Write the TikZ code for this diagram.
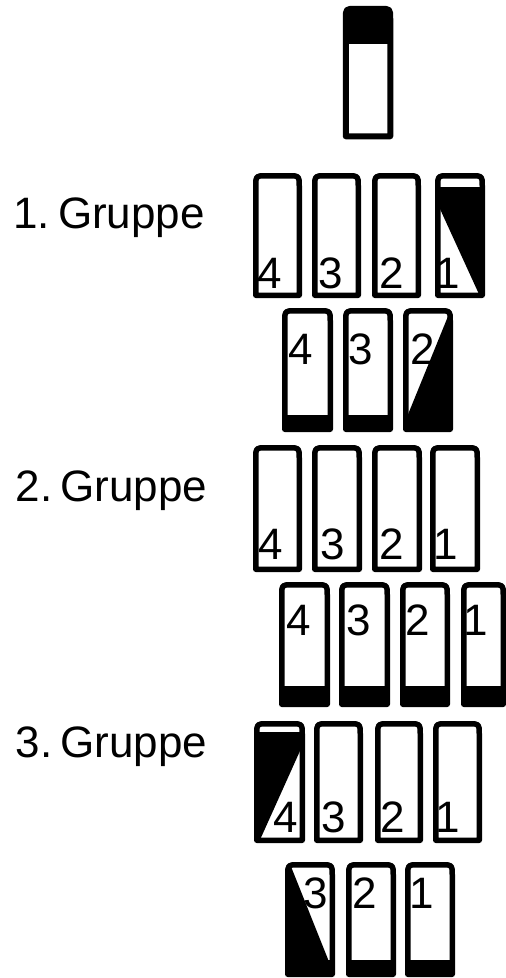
\documentclass[tikz,border=0pt]{standalone}
\usepackage{fontspec}
\setmainfont{Liberation Sans}
% Tile outline: #1,#2 = outer left/top, #3,#4 = outer right/bottom, #5 = path options.
% The path runs on the stroke centre line, 2.75 inside the outer edge.
\newcommand\tileshape[5]{%
  \path[#5] ({#1+2.75},{#4-2.75}) -- ({#1+2.75},{#2+13})
    .. controls ({#1+2.75},{#2+2.75}) .. ({#1+13},{#2+2.75})
    -- ({#3-13},{#2+2.75})
    .. controls ({#3-2.75},{#2+2.75}) .. ({#3-2.75},{#2+13})
    -- ({#3-2.75},{#4-2.75}) -- cycle;}
% Solid base band: #1 left, #2 band top, #3 right, #4 outer bottom.
\newcommand\baseband[4]{\fill[black] ({#1+2.75},#2) rectangle ({#3-2.75},{#4-2.75});}
\begin{document}
\begin{tikzpicture}[x=1pt,y=-1pt,
  outline/.style={draw=black,line width=5.5pt,line join=round},
  digit/.style={anchor=base west,inner sep=0pt,font=\fontsize{44}{44}\selectfont},
  grouplabel/.style={anchor=base west,inner sep=0pt,font=\fontsize{44}{44}\selectfont}]
\useasboundingbox[fill=white] (0,0) rectangle (506,978);
\clip (0,0) rectangle (506,978);

% ---------- single tile on top ----------
\begin{scope}
  \clip (0,0) rectangle (506,43);
  \tileshape{343}{6}{393}{139}{fill=black}
\end{scope}
\tileshape{343}{6}{393}{139}{outline,line width=6pt}

% ---------- group 1 ----------
% first row
\fill[black] (437.75,187) -- (482.25,187) -- (482.25,295.25) -- (479.5,295.25) -- (437.75,204) -- cycle;
\tileshape{253}{173}{302}{298}{outline}
\tileshape{312}{173}{361}{298}{outline}
\tileshape{372}{173}{421}{298}{outline}
\tileshape{435}{173}{485}{298}{outline}
\node[digit] (g1a4) at (257.5,288.5) {4};
\node[digit] (g1a3) at (318.2,288.5) {3};
\node[digit] (g1a2) at (378.8,288.5) {2};
\node[digit] (g1a1) at (435.4,288.5) {1};
% second row
\baseband{282}{415}{333}{432}
\baseband{343}{415}{393}{432}
\baseband{403}{415}{453}{432}
\fill[black] (450.25,314) -- (450.25,429.25) -- (405.75,429.25) -- (405.75,420) -- (449.5,312.6) -- cycle;
\tileshape{282}{308}{333}{432}{outline}
\tileshape{343}{308}{393}{432}{outline}
\tileshape{403}{308}{453}{432}{outline}
\node[digit] (g1b4) at (287.8,364) {4};
\node[digit] (g1b3) at (348.2,364) {3};
\node[digit] (g1b2) at (410.5,364) {2};

% ---------- group 2 ----------
% first row
\tileshape{253}{445}{302}{572}{outline}
\tileshape{312}{445}{362}{572}{outline}
\tileshape{372}{445}{422}{572}{outline}
\tileshape{430}{445}{480}{572}{outline}
\node[digit] (g2a4) at (257.8,559.5) {4};
\node[digit] (g2a3) at (319.9,559.5) {3};
\node[digit] (g2a2) at (378.8,559.5) {2};
\node[digit] (g2a1) at (433.7,559.5) {1};
% second row
\baseband{279}{686}{330}{707}
\baseband{339}{686}{390}{707}
\baseband{400}{686}{450}{707}
\baseband{461}{686}{506}{707}
\tileshape{279}{582}{330}{707}{outline}
\tileshape{339}{582}{390}{707}{outline}
\tileshape{400}{582}{450}{707}{outline}
\tileshape{461}{582}{506}{707}{outline}
\node[digit] (g2b4) at (286.2,635.5) {4};
\node[digit] (g2b3) at (346.5,635.5) {3};
\node[digit] (g2b2) at (405.5,635.5) {2};
\node[digit] (g2b1) at (463.7,635.5) {1};

% ---------- group 3 ----------
% first row
\fill[black] (256.75,732) -- (302.25,732) -- (302.25,745.9) -- (259.8,840.25) -- (256.75,840.25) -- cycle;
\tileshape{254}{721}{305}{843}{outline}
\tileshape{314}{721}{363}{843}{outline}
\tileshape{375}{721}{423}{843}{outline}
\tileshape{433}{721}{482}{843}{outline}
\node[digit] (g3a4) at (272.8,832) {4};
\node[digit] (g3a3) at (320.9,832) {3};
\node[digit] (g3a2) at (380.5,832) {2};
\node[digit] (g3a1) at (435.4,832) {1};
% second row
\baseband{285}{960}{335}{977}
\baseband{346}{960}{396}{977}
\baseband{405}{960}{455}{977}
\fill[black] (287.75,868) -- (291.6,868) -- (332.25,969.9) -- (332.25,974.25) -- (287.75,974.25) -- cycle;
\tileshape{285}{862}{335}{977}{outline}
\tileshape{346}{862}{396}{977}{outline}
\tileshape{405}{862}{455}{977}{outline}
\node[digit] (g3b3) at (303.2,908.5) {3};
\node[digit] (g3b2) at (352.1,908.5) {2};
\node[digit] (g3b1) at (409.4,908.5) {1};

% ---------- group labels ----------
\node[grouplabel] (lab1) at (13.2,228.3) {1.\hspace{8pt}Gruppe};
\node[grouplabel] (lab2) at (15.4,501.7) {2.\hspace{8pt}Gruppe};
\node[grouplabel] (lab3) at (15.6,757.7) {3.\hspace{8pt}Gruppe};
\end{tikzpicture}
\end{document}
